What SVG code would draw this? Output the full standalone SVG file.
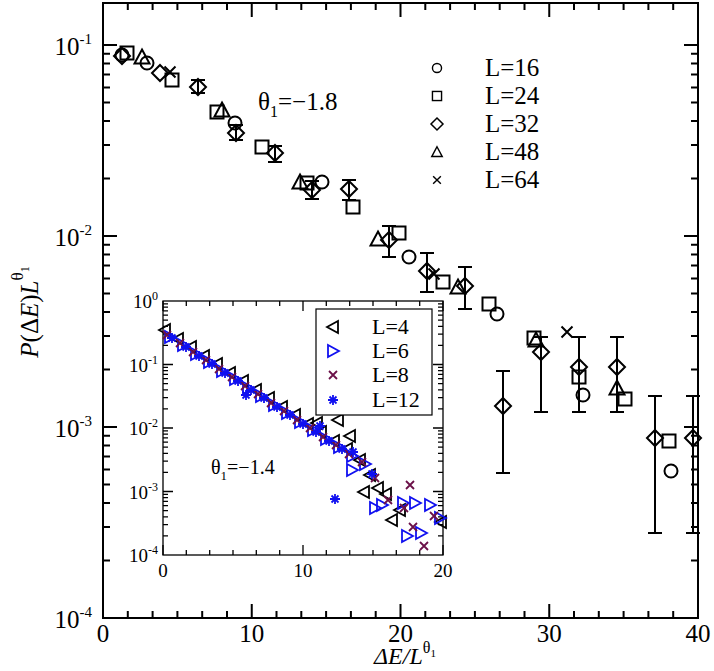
<svg xmlns="http://www.w3.org/2000/svg" width="714" height="671" viewBox="0 0 714 671" font-family="'Liberation Serif','Times New Roman',serif">
<style>
text{font-family:'Liberation Serif','Times New Roman',serif;fill:#000}
.ax{fill:none;stroke:#000;stroke-width:2}
.ax2{fill:none;stroke:#000;stroke-width:1.3}
.m{fill:none;stroke:#000;stroke-width:2}
.eb{fill:none;stroke:#000;stroke-width:2}
.k{fill:none;stroke:#000;stroke-width:1.8}
.b{fill:none;stroke:#1010f0;stroke-width:1.8}
.r{fill:none;stroke:#6b1048;stroke-width:1.8}
.s{fill:none;stroke:#1010f0;stroke-width:1.8}
</style>
<defs>
<circle id="ci" r="6.5" class="m"/>
<rect id="sq" x="-6.5" y="-6.5" width="13" height="13" class="m"/>
<polygon id="di" points="0,-8 8,0 0,8 -8,0" class="m"/>
<polygon id="tr" points="0,-7.5 7.5,6.5 -7.5,6.5" class="m"/>
<path id="xx" d="M-5.5,-5.5L5.5,5.5M-5.5,5.5L5.5,-5.5" class="m"/>
<polygon id="tl" points="-6,0 5,-6 5,6" class="k"/>
<polygon id="trr" points="6,0 -5,-6 -5,6" class="b"/>
<path id="x8" d="M-4,-4L4,4M-4,4L4,-4" class="r"/>
<path id="as" d="M-5,0H5M0,-5V5M-3.5,-3.5L3.5,3.5M-3.5,3.5L3.5,-3.5" class="s" stroke-width="2.4"/>
</defs>
<rect width="714" height="671" fill="#fff"/>
<g id="main-axes">
<rect x="103" y="3" width="595" height="615" class="ax"/>
<path class="ax" d="M103,618v-14M251.75,618v-14M400.5,618v-14M549.25,618v-14M103,3v14M251.75,3v14M400.5,3v14M549.25,3v14"/>
<path class="ax" d="M127.8,618v-7M152.6,618v-7M177.4,618v-7M202.2,618v-7M227,618v-7M276.5,618v-7M301.3,618v-7M326.1,618v-7M350.9,618v-7M375.7,618v-7M425.3,618v-7M450.1,618v-7M474.9,618v-7M499.7,618v-7M524.5,618v-7M574,618v-7M598.8,618v-7M623.6,618v-7M648.4,618v-7M673.2,618v-7
M127.8,3v7M152.6,3v7M177.4,3v7M202.2,3v7M227,3v7M276.5,3v7M301.3,3v7M326.1,3v7M350.9,3v7M375.7,3v7M425.3,3v7M450.1,3v7M474.9,3v7M499.7,3v7M524.5,3v7M574,3v7M598.8,3v7M623.6,3v7M648.4,3v7M673.2,3v7"/>
<path class="ax" d="M103,427h14M103,236h14M103,45h14M698,427h-14M698,236h-14M698,45h-14"/>
<path class="ax" d="M103,560.5h7M103,526.9h7M103,503h7M103,484.5h7M103,469.4h7M103,456.6h7M103,445.5h7M103,435.7h7
M103,369.5h7M103,335.9h7M103,312h7M103,293.5h7M103,278.4h7M103,265.6h7M103,254.5h7M103,244.7h7
M103,178.5h7M103,144.9h7M103,121h7M103,102.5h7M103,87.4h7M103,74.6h7M103,63.5h7M103,53.7h7
M698,560.5h-7M698,526.9h-7M698,503h-7M698,484.5h-7M698,469.4h-7M698,456.6h-7M698,445.5h-7M698,435.7h-7
M698,369.5h-7M698,335.9h-7M698,312h-7M698,293.5h-7M698,278.4h-7M698,265.6h-7M698,254.5h-7M698,244.7h-7
M698,178.5h-7M698,144.9h-7M698,121h-7M698,102.5h-7M698,87.4h-7M698,74.6h-7M698,63.5h-7M698,53.7h-7"/>
<g font-size="25" text-anchor="middle">
<text x="103" y="642">0</text><text x="251.75" y="642">10</text><text x="400.5" y="642">20</text><text x="549.25" y="642">30</text><text x="698" y="642">40</text>
</g>
<g font-size="25" text-anchor="end">
<text x="92" y="55">10<tspan font-size="15" dy="-11">-1</tspan></text>
<text x="92" y="246">10<tspan font-size="15" dy="-11">-2</tspan></text>
<text x="92" y="437">10<tspan font-size="15" dy="-11">-3</tspan></text>
<text x="92" y="628">10<tspan font-size="15" dy="-11">-4</tspan></text>
</g>
<text x="405" y="664" font-size="24" text-anchor="middle"><tspan font-style="italic">ΔE/L</tspan><tspan font-size="16" dy="-11">θ</tspan><tspan font-size="11" dy="4">1</tspan></text>
<text transform="translate(38,312) rotate(-90)" font-size="25" text-anchor="middle"><tspan font-style="italic">P</tspan>(Δ<tspan font-style="italic">E</tspan>)<tspan font-style="italic">L</tspan><tspan font-size="17" dy="-15">θ</tspan><tspan font-size="12" dy="6">1</tspan></text>
<text x="258" y="110" font-size="25">θ<tspan font-size="16" dy="7">1</tspan><tspan dy="-7">=−1.8</tspan></text>
</g>
<g id="errorbars">
<path class="eb" d="M198,80V93M191,80h14M191,93h14
M236,125V140M229,125h14M229,140h14
M275,146V162M268,146h14M268,162h14
M312,181V199M305,181h14M305,199h14
M349,180V200M342,180h14M342,200h14
M389,226V257M382,226h14M382,257h14
M427,253V292M420,253h14M420,292h14
M465,267V309M458,267h14M458,309h14
M503,371V473M496,371h14M496,473h14
M541,337V412M534,337h14M534,412h14
M579,337V412M572,337h14M572,412h14
M617,337V412M610,337h14M610,412h14
M655,396V533M648,396h14M648,533h14
M693,396V533M686,396h14M686,533h14"/>
</g>
<g id="main-data">
<use href="#ci" x="122" y="55"/><use href="#ci" x="147" y="63"/><use href="#ci" x="235" y="123"/><use href="#ci" x="322" y="182"/><use href="#ci" x="409" y="257"/><use href="#ci" x="497" y="314"/><use href="#ci" x="583" y="395"/><use href="#ci" x="671" y="471"/>
<use href="#sq" x="127" y="53"/><use href="#sq" x="172" y="80"/><use href="#sq" x="217" y="112"/><use href="#sq" x="262" y="147"/><use href="#sq" x="307" y="183"/><use href="#sq" x="353" y="207"/><use href="#sq" x="399" y="233"/><use href="#sq" x="443" y="282"/><use href="#sq" x="489" y="304"/><use href="#sq" x="534" y="338"/><use href="#sq" x="579" y="377"/><use href="#sq" x="625" y="399"/><use href="#sq" x="669" y="441"/>
<use href="#di" x="122" y="56"/><use href="#di" x="160" y="73"/><use href="#di" x="198" y="87"/><use href="#di" x="236" y="133"/><use href="#di" x="275" y="153"/><use href="#di" x="312" y="190"/><use href="#di" x="349" y="189"/><use href="#di" x="389" y="240"/><use href="#di" x="427" y="271"/><use href="#di" x="465" y="286"/><use href="#di" x="503" y="406"/><use href="#di" x="541" y="352"/><use href="#di" x="579" y="367"/><use href="#di" x="617" y="367"/><use href="#di" x="655" y="438"/><use href="#di" x="693" y="438"/>
<use href="#tr" x="142" y="57"/><use href="#tr" x="222" y="110"/><use href="#tr" x="300" y="182"/><use href="#tr" x="378" y="239"/><use href="#tr" x="458" y="287"/><use href="#tr" x="536" y="340"/><use href="#tr" x="617" y="388"/>
<use href="#xx" x="170" y="72"/><use href="#xx" x="434" y="274"/><use href="#xx" x="567" y="332"/>
</g>
<g id="main-legend" font-size="25">
<use href="#ci" transform="translate(437,68) scale(0.7)"/><text x="485" y="76">L=16</text>
<use href="#sq" transform="translate(437,96) scale(0.7)"/><text x="485" y="104">L=24</text>
<use href="#di" transform="translate(437,124) scale(0.75)"/><text x="485" y="132">L=32</text>
<use href="#tr" transform="translate(437,152) scale(0.7)"/><text x="485" y="160">L=48</text>
<use href="#xx" transform="translate(437,180) scale(0.7)"/><text x="485" y="188">L=64</text>
</g>
<g id="inset">
<rect x="163" y="301" width="280" height="254" fill="#fff" class="ax2"/>
<path class="ax2" d="M163,555v-10M303,555v-10M443,555v-10M163,301v10M303,301v10M443,301v10
M186.3,555v-5M209.7,555v-5M233,555v-5M256.3,555v-5M279.7,555v-5M326.3,555v-5M349.7,555v-5M373,555v-5M396.3,555v-5M419.7,555v-5
M186.3,301v5M209.7,301v5M233,301v5M256.3,301v5M279.7,301v5M326.3,301v5M349.7,301v5M373,301v5M396.3,301v5M419.7,301v5
M163,491.5h10M163,428h10M163,364.5h10M443,491.5h-10M443,428h-10M443,364.5h-10"/>
<path class="ax2" d="M163,535.9h5M163,524.7h5M163,516.8h5M163,510.6h5M163,505.6h5M163,501.3h5M163,497.7h5M163,494.4h5
M163,472.4h5M163,461.2h5M163,453.3h5M163,447.1h5M163,442.1h5M163,437.8h5M163,434.2h5M163,430.9h5
M163,408.9h5M163,397.7h5M163,389.8h5M163,383.6h5M163,378.6h5M163,374.3h5M163,370.7h5M163,367.4h5
M163,345.4h5M163,334.2h5M163,326.3h5M163,320.1h5M163,315.1h5M163,310.8h5M163,307.2h5M163,303.9h5
M443,535.9h-5M443,524.7h-5M443,516.8h-5M443,510.6h-5M443,505.6h-5M443,501.3h-5M443,497.7h-5M443,494.4h-5
M443,472.4h-5M443,461.2h-5M443,453.3h-5M443,447.1h-5M443,442.1h-5M443,437.8h-5M443,434.2h-5M443,430.9h-5
M443,408.9h-5M443,397.7h-5M443,389.8h-5M443,383.6h-5M443,378.6h-5M443,374.3h-5M443,370.7h-5M443,367.4h-5
M443,345.4h-5M443,334.2h-5M443,326.3h-5M443,320.1h-5M443,315.1h-5M443,310.8h-5M443,307.2h-5M443,303.9h-5"/>
<g font-size="19" text-anchor="middle"><text x="163" y="577">0</text><text x="303" y="577">10</text><text x="443" y="577">20</text></g>
<g font-size="19" text-anchor="end">
<text x="158" y="308">10<tspan font-size="12" dy="-8">0</tspan></text>
<text x="158" y="372">10<tspan font-size="12" dy="-8">-1</tspan></text>
<text x="158" y="435">10<tspan font-size="12" dy="-8">-2</tspan></text>
<text x="158" y="499">10<tspan font-size="12" dy="-8">-3</tspan></text>
<text x="158" y="562">10<tspan font-size="12" dy="-8">-4</tspan></text>
</g>
<text x="211" y="474" font-size="20">θ<tspan font-size="13" dy="6">1</tspan><tspan dy="-6">=−1.4</tspan></text>
<g id="inset-data">
<use href="#tl" x="165" y="330"/><use href="#tl" x="178" y="339"/><use href="#tl" x="191" y="347"/><use href="#tl" x="204" y="356"/><use href="#tl" x="217" y="364"/><use href="#tl" x="230" y="373"/><use href="#tl" x="243" y="381"/><use href="#tl" x="256" y="390"/><use href="#tl" x="269" y="398"/><use href="#tl" x="282" y="407"/><use href="#tl" x="295" y="415"/><use href="#tl" x="308" y="424"/><use href="#tl" x="321" y="432"/><use href="#tl" x="334" y="441"/><use href="#tl" x="347" y="449"/><use href="#tl" x="317" y="423"/><use href="#tl" x="338" y="420"/><use href="#tl" x="350" y="436"/><use href="#tl" x="360" y="460"/><use href="#tl" x="364" y="492"/><use href="#tl" x="378" y="488"/><use href="#tl" x="392" y="520"/><use href="#tl" x="400" y="510"/><use href="#tl" x="441" y="522"/><use href="#tl" x="370" y="475"/><use href="#tl" x="386" y="494"/>
<use href="#trr" x="170" y="337"/><use href="#trr" x="183" y="345"/><use href="#trr" x="196" y="354"/><use href="#trr" x="209" y="362"/><use href="#trr" x="222" y="371"/><use href="#trr" x="235" y="379"/><use href="#trr" x="248" y="388"/><use href="#trr" x="261" y="396"/><use href="#trr" x="274" y="405"/><use href="#trr" x="287" y="413"/><use href="#trr" x="300" y="422"/><use href="#trr" x="313" y="430"/><use href="#trr" x="326" y="439"/><use href="#trr" x="339" y="447"/><use href="#trr" x="352" y="456"/><use href="#trr" x="365" y="464"/><use href="#trr" x="352" y="470"/><use href="#trr" x="375" y="508"/><use href="#trr" x="382" y="505"/><use href="#trr" x="403" y="503"/><use href="#trr" x="415" y="503"/><use href="#trr" x="430" y="505"/><use href="#trr" x="407" y="536"/><use href="#trr" x="421" y="533"/><use href="#trr" x="440" y="518"/>
<use href="#x8" x="167" y="335"/><use href="#x8" x="180" y="343"/><use href="#x8" x="193" y="352"/><use href="#x8" x="206" y="360"/><use href="#x8" x="219" y="369"/><use href="#x8" x="232" y="377"/><use href="#x8" x="245" y="386"/><use href="#x8" x="258" y="394"/><use href="#x8" x="271" y="403"/><use href="#x8" x="284" y="411"/><use href="#x8" x="297" y="420"/><use href="#x8" x="310" y="428"/><use href="#x8" x="323" y="437"/><use href="#x8" x="336" y="445"/><use href="#x8" x="349" y="454"/><use href="#x8" x="362" y="462"/><use href="#x8" x="375" y="478"/><use href="#x8" x="388" y="500"/><use href="#x8" x="404" y="508"/><use href="#x8" x="410" y="485"/><use href="#x8" x="413" y="527"/><use href="#x8" x="424" y="546"/><use href="#x8" x="434" y="516"/>
<use href="#as" x="172" y="338"/><use href="#as" x="186" y="347"/><use href="#as" x="199" y="356"/><use href="#as" x="212" y="364"/><use href="#as" x="225" y="373"/><use href="#as" x="238" y="381"/><use href="#as" x="251" y="390"/><use href="#as" x="264" y="398"/><use href="#as" x="277" y="407"/><use href="#as" x="290" y="415"/><use href="#as" x="303" y="424"/><use href="#as" x="316" y="432"/><use href="#as" x="329" y="441"/><use href="#as" x="342" y="449"/><use href="#as" x="335" y="499"/><use href="#as" x="353" y="452"/><use href="#as" x="246" y="395"/><use href="#as" x="320" y="426"/><use href="#as" x="372" y="474"/>
</g>
<g id="inset-legend" font-size="22">
<rect x="316" y="309" width="116" height="106" fill="#fff" stroke="#000" stroke-width="1.2"/>
<use href="#tl" x="333" y="327"/><text x="372" y="334">L=4</text>
<use href="#trr" x="333" y="351"/><text x="372" y="358">L=6</text>
<use href="#x8" x="333" y="375"/><text x="372" y="382">L=8</text>
<use href="#as" x="333" y="400"/><text x="372" y="407">L=12</text>
</g>
</g>
</svg>
